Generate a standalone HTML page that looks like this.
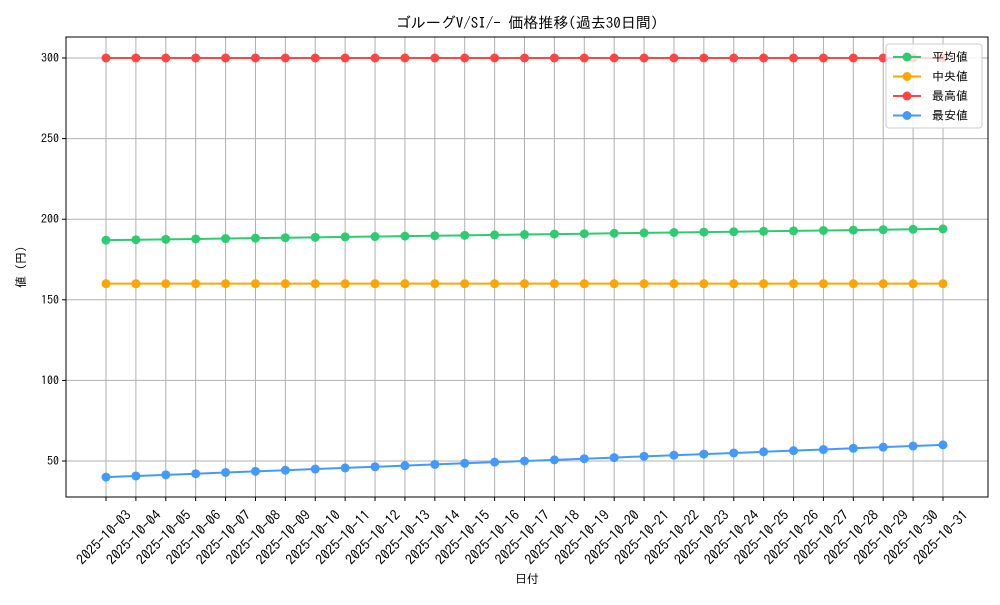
<!DOCTYPE html>
<html><head><meta charset="utf-8"><style>
body{margin:0;background:#fff;width:1000px;height:600px;overflow:hidden}
svg{font-family:"IPAGothic","Noto Sans CJK JP",sans-serif}
</style></head><body>
<svg id="chart" width="1000" height="600" viewBox="0 0 1000 600" xmlns="http://www.w3.org/2000/svg">
<rect width="1000" height="600" fill="#fff"/>
<text x="527" y="28" text-anchor="middle" font-size="15" fill="#000">ゴルーグV/SI/- 価格推移(過去30日間)</text>
<g id="grid"></g>
<g id="series"></g>
<rect x="66" y="37" width="922" height="460" fill="none" stroke="#000" stroke-width="1"/>
<g id="axes"></g>
<text x="527" y="583" text-anchor="middle" font-size="12">日付</text>
<text transform="translate(25,267) rotate(-90)" text-anchor="middle" font-size="12">値 (円)</text>
<g id="legend"></g>
</svg>
<script>
const dates=["2025-10-03","2025-10-04","2025-10-05","2025-10-06","2025-10-07","2025-10-08","2025-10-09","2025-10-10","2025-10-11","2025-10-12","2025-10-13","2025-10-14","2025-10-15","2025-10-16","2025-10-17","2025-10-18","2025-10-19","2025-10-20","2025-10-21","2025-10-22","2025-10-23","2025-10-24","2025-10-25","2025-10-26","2025-10-27","2025-10-28","2025-10-29","2025-10-30","2025-10-31"];
const avgVals=[187,187.25,187.5,187.75,188,188.25,188.5,188.75,189,189.25,189.5,189.75,190,190.25,190.5,190.75,191,191.25,191.5,191.75,192,192.25,192.5,192.75,193,193.25,193.5,193.75,194];
const medVals=[160,160,160,160,160,160,160,160,160,160,160,160,160,160,160,160,160,160,160,160,160,160,160,160,160,160,160,160,160];
const maxVals=[300,300,300,300,300,300,300,300,300,300,300,300,300,300,300,300,300,300,300,300,300,300,300,300,300,300,300,300,300];
const minVals=[40,40.7,41.4,42.1,42.9,43.6,44.3,45,45.7,46.4,47.1,47.9,48.6,49.3,50,50.7,51.4,52.1,52.9,53.6,54.3,55,55.7,56.4,57.1,57.9,58.6,59.3,60];
const yTicks=[50,100,150,200,250,300];
const seriesNames=["平均値","中央値","最高値","最安値"];
const colors=["#2ecc71","#ffa500","#ff4444","#4499ff"];
const NS="http://www.w3.org/2000/svg";
function el(t,a,p){const e=document.createElementNS(NS,t);for(const k in a)e.setAttribute(k,a[k]);p.appendChild(e);return e;}
const x0=106,x1=943;
function xs(i){return x0+(x1-x0)*i/(dates.length-1);}
function ys(v){return 461-(v-50)*(403/250);}
const grid=document.getElementById('grid'),axes=document.getElementById('axes'),ser=document.getElementById('series');
dates.forEach((d,i)=>{
 const g=el('line',{x1:xs(i),x2:xs(i),y1:37,y2:497,stroke:'#b0b0b0','stroke-width':1},grid);
 
 
 el('line',{x1:xs(i),x2:xs(i),y1:497,y2:501,stroke:'#000'},axes);
 const ax=xs(i)+26,ay=516;
 const t=el('text',{x:ax,y:ay,'font-size':14,'text-anchor':'end',transform:`rotate(-45 ${ax} ${ay})`},axes);
 t.textContent=d;
 
 
});
yTicks.forEach(v=>{
 const g=el('line',{x1:66,x2:988,y1:ys(v),y2:ys(v),stroke:'#b0b0b0','stroke-width':1},grid);
 
 
 el('line',{x1:62,x2:66,y1:ys(v),y2:ys(v),stroke:'#000'},axes);
 const t=el('text',{x:59,y:ys(v)+4,'font-size':12,'text-anchor':'end'},axes);
 t.textContent=v;
 
 
});
[avgVals,medVals,maxVals,minVals].forEach((vals,s)=>{
 const g=el('g',{},ser);
 
 
 el('polyline',{points:vals.map((v,i)=>xs(i)+','+ys(v)).join(' '),fill:'none',stroke:colors[s],'stroke-width':2},g);
 vals.forEach((v,i)=>{
  const c=el('circle',{cx:xs(i),cy:ys(v),r:4.5,fill:colors[s]},g);
  
  
 });
});
const lg=document.getElementById('legend');
el('rect',{x:886,y:44,width:96,height:84,rx:3,fill:'#fff','fill-opacity':0.8,stroke:'#ccc'},lg);
seriesNames.forEach((n,i)=>{
 const y=57+i*19.5;
 const e=el('g',{},lg);
 
 
 el('line',{x1:893,x2:921,y1:y,y2:y,stroke:colors[i],'stroke-width':2},e);
 el('circle',{cx:907,cy:y,r:4.5,fill:colors[i]},e);
 const t=el('text',{x:932,y:y+4,'font-size':12},e);t.textContent=n;
});
</script>
</body></html>
